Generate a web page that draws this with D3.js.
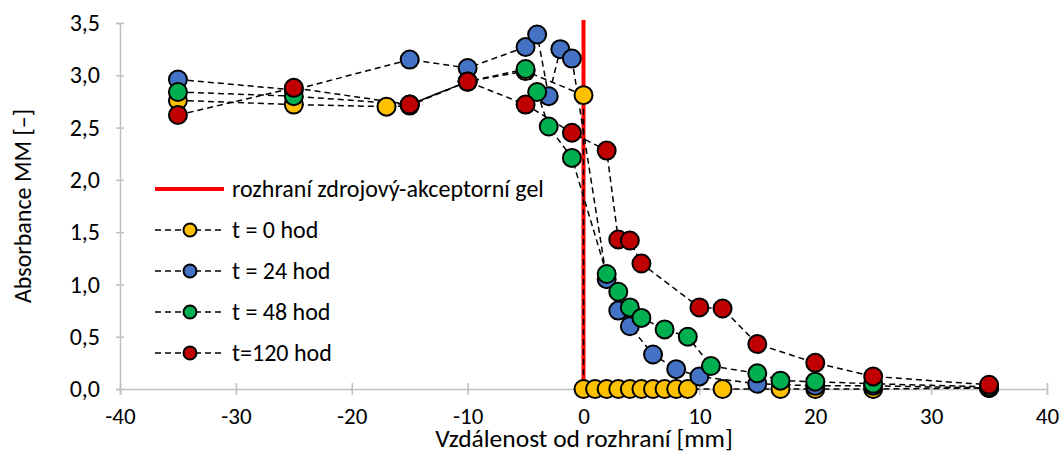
<!DOCTYPE html>
<html>
<head>
<meta charset="utf-8">
<script src="https://cdn.jsdelivr.net/npm/d3@7"></script>
<style>
  body { margin: 0; background: #fff; }
  text { font-family: Carlito, "Open Sans", sans-serif; fill: #000; }
  .axis path, .axis line { stroke: #bfbfbf; stroke-width: 1.5; }
  .line { fill: none; stroke: #000; stroke-width: 1.5; stroke-dasharray: 6,4; }
</style>
</head>
<body>
<div id="chart"></div>
<script>
// tick values
const xTicks = [-40, -30, -20, -10, 0, 10, 20, 30, 40];
const yTicks = [0, 0.5, 1, 1.5, 2, 2.5, 3, 3.5];

// t = 0 hod
const x0 = [-35, -25, -17, -15, -10, -5, 0, 0, 1, 2, 3, 4, 5, 6, 7, 8, 9, 12, 17, 20, 25, 35];
const y0 = [2.76, 2.72, 2.70, 2.71, 2.94, 3.04, 2.81, 0, 0, 0, 0, 0, 0, 0, 0, 0, 0, 0, 0, 0, 0, 0.01];
// t = 24 hod
const x24 = [-35, -25, -15, -10, -5, -4, -3, -2, -1, 2, 3, 4, 6, 8, 10, 15, 20, 25, 35];
const y24 = [2.96, 2.86, 3.15, 3.07, 3.27, 3.39, 2.80, 3.25, 3.16, 1.05, 0.75, 0.60, 0.33, 0.19, 0.12, 0.05, 0.03, 0.03, 0.01];
// t = 48 hod
const x48 = [-35, -25, -15, -10, -5, -4, -3, -1, 2, 3, 4, 5, 7, 9, 11, 15, 17, 20, 25, 35];
const y48 = [2.84, 2.80, 2.72, 2.94, 3.06, 2.84, 2.51, 2.21, 1.10, 0.93, 0.78, 0.68, 0.57, 0.50, 0.22, 0.15, 0.08, 0.07, 0.05, 0.02];
// t = 120 hod
const x120 = [-35, -25, -15, -10, -5, -1, 2, 3, 4, 5, 10, 12, 15, 20, 25, 35];
const y120 = [2.62, 2.88, 2.72, 2.94, 2.72, 2.45, 2.28, 1.43, 1.42, 1.20, 0.78, 0.77, 0.43, 0.25, 0.12, 0.04];

const seriesNames = ["t = 0 hod", "t = 24 hod", "t = 48 hod", "t=120 hod"];
const seriesColors = ["#ffc000", "#4472c4", "#00b050", "#c00000"];
const interfaceName = "rozhraní zdrojový-akceptorní gel";

const series = [[x0, y0], [x24, y24], [x48, y48], [x120, y120]].map((s, i) => ({
    name: seriesNames[i],
    color: seriesColors[i],
    points: s[0].map((x, j) => ({ x: x, y: s[1][j] }))
}));

const W = 1062, H = 454;
const FS = '24px';
const svg = d3.select('#chart').append('svg')
    .attr('width', W)
    .attr('height', H);

const xScale = d3.scaleLinear().domain([-40, 40]).range([120, 1047]);
const yScale = d3.scaleLinear().domain([0, 3.5]).range([389, 23]);
const fmt = d => d3.format('.1f')(d).replace('.', ',');

// axes
const xAxis = svg.append('g')
    .attr('class', 'x axis')
    .attr('transform', 'translate(0,' + yScale(0) + ')')
    .call(d3.axisBottom(xScale).tickValues(xTicks).tickSize(6).tickFormat(d => String(d)));
xAxis.selectAll('.tick line').attr('y1', -6);
xAxis.selectAll('text').style('font-size', '23px').attr('y', 35).attr('dy', 0);

const yAxis = svg.append('g')
    .attr('class', 'y axis')
    .attr('transform', 'translate(' + xScale(-40) + ',0)')
    .call(d3.axisLeft(yScale).tickValues(yTicks).tickSize(4).tickPadding(16).tickFormat(fmt));
yAxis.selectAll('.tick line').attr('x1', 4);
yAxis.selectAll('text').style('font-size', FS);
svg.selectAll('.domain').attr('stroke', '#bfbfbf');

// axis titles
svg.append('text')
    .attr('x', 584).attr('y', 447)
    .attr('text-anchor', 'middle')
    .style('font-size', '25.5px')
    .text('Vzdálenost od rozhraní [mm]');
svg.append('text')
    .attr('transform', 'translate(31,' + yScale(1.75) + ') rotate(-90)')
    .attr('text-anchor', 'middle')
    .style('font-size', FS)
    .text('Absorbance MM [–]');

// interface line
svg.append('line')
    .attr('x1', xScale(0)).attr('x2', xScale(0))
    .attr('y1', yScale(0)).attr('y2', yScale(3.5) - 3)
    .attr('stroke', '#ff0000')
    .attr('stroke-width', 4);

const line = d3.line().x(d => xScale(d.x)).y(d => yScale(d.y));

series.forEach(s => {
    svg.append('path')
        .datum(s.points)
        .attr('class', 'line')
        .attr('d', line);
});

series.forEach(s => {
    svg.append('g').selectAll('circle')
        .data(s.points)
        .enter()
        .append('circle')
        .attr('cx', d => xScale(d.x))
        .attr('cy', d => yScale(d.y))
        .attr('r', 9)
        .attr('fill', s.color)
        .attr('stroke', '#000')
        .attr('stroke-width', 2);
});

// legend
const legend = svg.append('g').attr('class', 'legend');
legend.append('line')
    .attr('x1', 155).attr('x2', 224)
    .attr('y1', 189).attr('y2', 189)
    .attr('stroke', '#ff0000')
    .attr('stroke-width', 4);
legend.append('text')
    .attr('x', 232).attr('y', 197)
    .style('font-size', FS)
    .text(interfaceName);

const items = legend.selectAll('g.item')
    .data(series)
    .enter()
    .append('g')
    .attr('class', 'item')
    .attr('transform', (d, i) => 'translate(0,' + (230 + i * 41) + ')');
items.append('line')
    .attr('x1', 155).attr('x2', 224)
    .attr('stroke', '#000')
    .attr('stroke-width', 1.5)
    .attr('stroke-dasharray', '6,4');
items.append('circle')
    .attr('cx', 190)
    .attr('r', 6.5)
    .attr('fill', d => d.color)
    .attr('stroke', '#000')
    .attr('stroke-width', 2);
items.append('text')
    .attr('x', 232).attr('y', 8)
    .style('font-size', FS)
    .text(d => d.name);
</script>
</body>
</html>
